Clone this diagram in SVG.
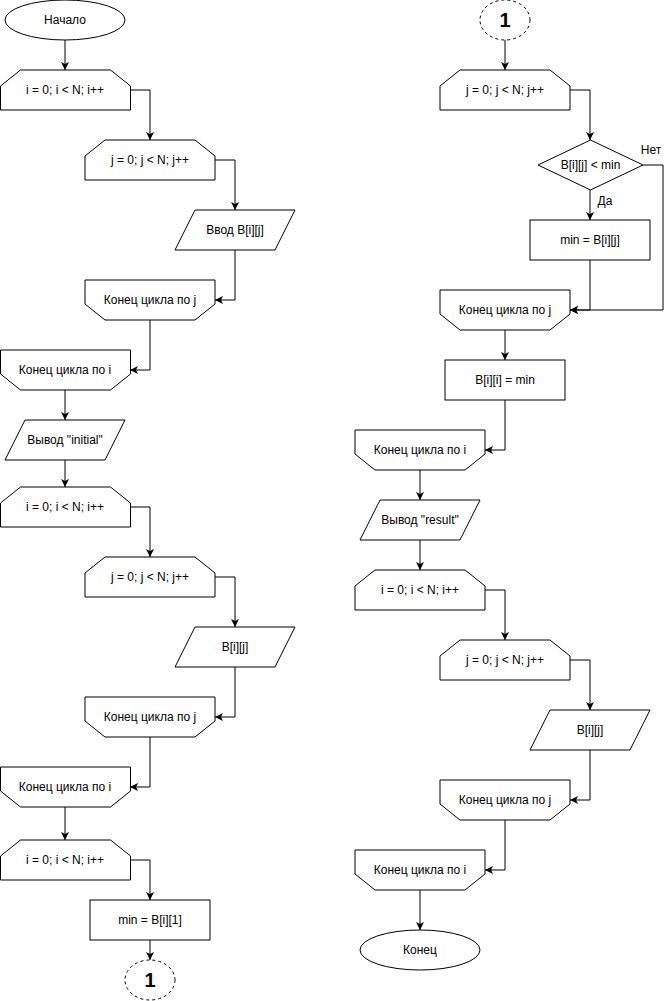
<svg xmlns="http://www.w3.org/2000/svg" width="672" height="1001" viewBox="0 0 672 1001">
<style>
.s{fill:#fff;stroke:#000;stroke-width:1}
.d{fill:#fff;stroke:#000;stroke-width:1;stroke-dasharray:3,3}
.t{font-family:"Liberation Sans",Arial,sans-serif;font-size:12px;fill:#000;text-anchor:middle}
.b{font-family:"Liberation Sans",Arial,sans-serif;font-size:20px;font-weight:bold;fill:#000;text-anchor:middle}
.c{fill:none;stroke:#000;stroke-width:1;marker-end:url(#a)}
</style>
<defs>
<marker id="a" markerUnits="userSpaceOnUse" markerWidth="8" markerHeight="8" refX="8" refY="4" orient="auto">
<path d="M0,0 L8,4 L0,8 L2,4 Z" fill="#000"/>
</marker>
</defs>
<rect width="672" height="1001" fill="#fff"/>
<g id="connectors">
<path class="c" d="M65,40 V70"/>
<path class="c" d="M130,90 H150 V140"/>
<path class="c" d="M215,160 H235 V210"/>
<path class="c" d="M235,250 V300 H215"/>
<path class="c" d="M150,320 V370 H130"/>
<path class="c" d="M65,390 V420"/>
<path class="c" d="M65,460 V487"/>
<path class="c" d="M130,507 H150 V557"/>
<path class="c" d="M215,577 H235 V627"/>
<path class="c" d="M235,667 V717 H215"/>
<path class="c" d="M150,737 V787 H130"/>
<path class="c" d="M65,807 V840"/>
<path class="c" d="M130,860 H150 V900"/>
<path class="c" d="M150,940 V960"/>
<path class="c" d="M505,40 V70"/>
<path class="c" d="M570,90 H590 V140"/>
<path class="c" d="M590,190 V220"/>
<path class="c" d="M643,165 H663 V310 H570"/>
<path class="c" d="M590,260 V310 H570"/>
<path class="c" d="M505,330 V360"/>
<path class="c" d="M505,400 V450 H485"/>
<path class="c" d="M420,470 V500"/>
<path class="c" d="M420,540 V570"/>
<path class="c" d="M485,590 H505 V640"/>
<path class="c" d="M570,660 H590 V710"/>
<path class="c" d="M590,750 V800 H570"/>
<path class="c" d="M505,820 V870 H485"/>
<path class="c" d="M420,890 V930"/>
<text class="t" x="605" y="205">Да</text>
<text class="t" x="651" y="154">Нет</text>
</g>
<g id="start"><ellipse class="s" cx="65" cy="20" rx="60" ry="20"/><text class="t" x="65" y="24">Начало</text></g>
<g id="loop1"><path class="s" d="M20.5,70 H110.5 L130.5,86 V110 H0.5 V86 Z"/><text class="t" x="65" y="94">i = 0; i &lt; N; i++</text></g>
<g id="loop2"><path class="s" d="M105,140 H195 L215,156 V180 H85 V156 Z"/><text class="t" x="150" y="164">j = 0; j &lt; N; j++</text></g>
<g id="input1"><path class="s" d="M195,210 H295 L275,250 H175 Z"/><text class="t" x="235" y="234">Ввод B[i][j]</text></g>
<g id="end1"><path class="s" d="M85,280 H215 V304 L195,320 H105 L85,304 Z"/><text class="t" x="150" y="304">Конец цикла по j</text></g>
<g id="end2"><path class="s" d="M0.5,350 H130.5 V374 L110.5,390 H20.5 L0.5,374 Z"/><text class="t" x="65" y="374">Конец цикла по i</text></g>
<g id="output1"><path class="s" d="M25,420 H125 L105,460 H5 Z"/><text class="t" x="65" y="444">Вывод "initial"</text></g>
<g id="loop3"><path class="s" d="M20.5,487 H110.5 L130.5,503 V527 H0.5 V503 Z"/><text class="t" x="65" y="511">i = 0; i &lt; N; i++</text></g>
<g id="loop4"><path class="s" d="M105,557 H195 L215,573 V597 H85 V573 Z"/><text class="t" x="150" y="581">j = 0; j &lt; N; j++</text></g>
<g id="output2"><path class="s" d="M195,627 H295 L275,667 H175 Z"/><text class="t" x="235" y="651">B[i][j]</text></g>
<g id="end3"><path class="s" d="M85,697 H215 V721 L195,737 H105 L85,721 Z"/><text class="t" x="150" y="721">Конец цикла по j</text></g>
<g id="end4"><path class="s" d="M0.5,767 H130.5 V791 L110.5,807 H20.5 L0.5,791 Z"/><text class="t" x="65" y="791">Конец цикла по i</text></g>
<g id="loop5"><path class="s" d="M20.5,840 H110.5 L130.5,856 V880 H0.5 V856 Z"/><text class="t" x="65" y="864">i = 0; i &lt; N; i++</text></g>
<g id="proc1"><rect class="s" x="90" y="900" width="120" height="40"/><text class="t" x="150" y="924">min = B[i][1]</text></g>
<g id="conn1"><ellipse class="d" cx="150" cy="980" rx="25" ry="20"/><text class="b" x="150" y="987">1</text></g>
<g id="conn2"><ellipse class="d" cx="505" cy="20" rx="25" ry="20"/><text class="b" x="505" y="27">1</text></g>
<g id="rloop1"><path class="s" d="M460,70 H550 L570,86 V110 H440 V86 Z"/><text class="t" x="505" y="94">j = 0; j &lt; N; j++</text></g>
<g id="decision"><path class="s" d="M590.5,140 L643,165 L590.5,190 L538,165 Z"/><text class="t" x="590.5" y="169">B[i][j] &lt; min</text></g>
<g id="proc2"><rect class="s" x="530" y="220" width="120" height="40"/><text class="t" x="590" y="244">min = B[i][j]</text></g>
<g id="rend1"><path class="s" d="M440,290 H570 V314 L550,330 H460 L440,314 Z"/><text class="t" x="505" y="314">Конец цикла по j</text></g>
<g id="proc3"><rect class="s" x="445" y="360" width="120" height="40"/><text class="t" x="505" y="384">B[i][i] = min</text></g>
<g id="rend2"><path class="s" d="M355,430 H485 V454 L465,470 H375 L355,454 Z"/><text class="t" x="420" y="454">Конец цикла по i</text></g>
<g id="output3"><path class="s" d="M380,500 H480 L460,540 H360 Z"/><text class="t" x="420" y="524">Вывод "result"</text></g>
<g id="rloop2"><path class="s" d="M375,570 H465 L485,586 V610 H355 V586 Z"/><text class="t" x="420" y="594">i = 0; i &lt; N; i++</text></g>
<g id="rloop3"><path class="s" d="M460,640 H550 L570,656 V680 H440 V656 Z"/><text class="t" x="505" y="664">j = 0; j &lt; N; j++</text></g>
<g id="output4"><path class="s" d="M550,710 H650 L630,750 H530 Z"/><text class="t" x="590" y="734">B[i][j]</text></g>
<g id="rend3"><path class="s" d="M440,780 H570 V804 L550,820 H460 L440,804 Z"/><text class="t" x="505" y="804">Конец цикла по j</text></g>
<g id="rend4"><path class="s" d="M355,850 H485 V874 L465,890 H375 L355,874 Z"/><text class="t" x="420" y="874">Конец цикла по i</text></g>
<g id="end"><ellipse class="s" cx="420" cy="950" rx="60" ry="20"/><text class="t" x="420" y="954">Конец</text></g>
</svg>
